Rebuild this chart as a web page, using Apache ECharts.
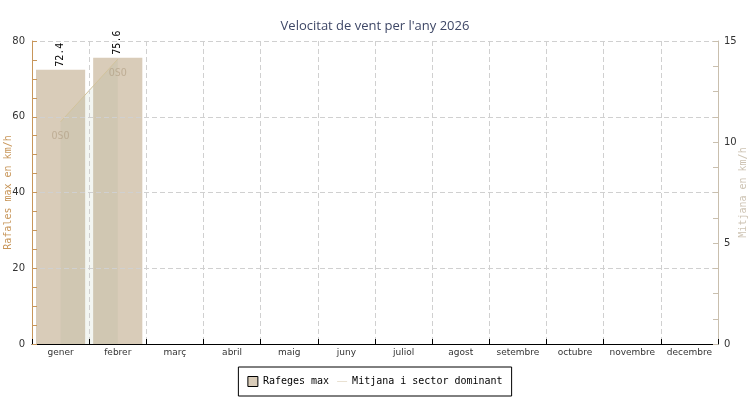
<!DOCTYPE html>
<html>
<head>
<meta charset="utf-8">
<script src="https://cdn.jsdelivr.net/npm/echarts@6/dist/echarts.min.js"></script>
<style>html,body{margin:0;padding:0;background:#fff}#c{width:750px;height:400px}</style>
</head>
<body>
<div id="c"></div>
<script>
const titleText = "Velocitat de vent per l'any 2026";
const categories = ['gener','febrer','març','abril','maig','juny','juliol','agost','setembre','octubre','novembre','decembre'];
const rafeges = [72.4, 75.6, null, null, null, null, null, null, null, null, null, null];
const mitjana = [11.0, 14.1, null, null, null, null, null, null, null, null, null, null];
const sector = ['OSO', 'OSO', '', '', '', '', '', '', '', '', '', ''];
const leftTicks = {min: 0, max: 80, interval: 20};
const rightTicks = {min: 0, max: 15, interval: 5};

const mono = 'DejaVu Sans Mono';
const sans = 'DejaVu Sans';
const chart = echarts.init(document.getElementById('c'), null, {renderer: 'canvas'});
chart.setOption({
  animation: false,
  backgroundColor: '#ffffff',
  title: {
    text: titleText, left: 'center', top: 15,
    textStyle: {fontFamily: 'Open Sans', fontSize: 13, fontWeight: 'normal', color: '#3e4766'}
  },
  grid: {left: 32, right: 32, top: 41, bottom: 56, containLabel: false, outerBoundsMode: 'none'},
  legend: {
    left: 'center', top: 367, padding: [9, 9], itemGap: 8,
    itemWidth: 10, itemHeight: 10,
    borderColor: '#000', borderWidth: 1, backgroundColor: '#fff',
    textStyle: {fontFamily: mono, fontSize: 10, color: '#000'},
    data: [
      {name: 'Rafeges max', icon: 'rect', itemStyle: {color: '#d9ccb9', borderColor: '#000', borderWidth: 1}},
      {name: 'Mitjana i sector dominant', icon: 'path://M0,0L0.001,0L0,0.001Z M0,4.5H10V5.5H0Z M0,10L0.001,10L0,9.999Z', itemStyle: {color: '#e9e1d2', borderWidth: 0}}
    ]
  },
  xAxis: {
    type: 'category', data: categories, boundaryGap: true, z: 10,
    axisLine: {show: true, lineStyle: {color: '#000', width: 1}},
    axisTick: {show: true, inside: true, length: 5, lineStyle: {color: '#000'}},
    axisLabel: {fontFamily: sans, fontSize: 9, color: '#333', margin: 4, interval: 0},
    splitLine: {show: true, lineStyle: {color: '#d0d0d0', type: [5, 3], width: 1}}
  },
  yAxis: [
    {
      type: 'value', min: leftTicks.min, max: leftTicks.max, interval: leftTicks.interval, z: 10,
      position: 'left',
      name: 'Rafales max en km/h', nameLocation: 'middle', nameGap: 19, nameMoveOverlap: false,
      nameTextStyle: {fontFamily: mono, fontSize: 10, color: '#c8965a'},
      axisLine: {show: true, lineStyle: {color: '#c8965a', width: 1}},
      axisTick: {show: true, inside: true, length: 5, lineStyle: {color: '#c8965a'}},
      minorTick: {show: true, splitNumber: 4, length: 5, lineStyle: {color: '#c8965a', width: 1}},
      axisLabel: {fontFamily: sans, fontSize: 10, color: '#333', margin: 7},
      splitLine: {show: true, lineStyle: {color: '#d0d0d0', type: [5, 3], width: 1}}
    },
    {
      type: 'value', min: rightTicks.min, max: rightTicks.max, interval: rightTicks.interval, z: 10,
      position: 'right',
      name: 'Mitjana en km/h', nameLocation: 'middle', nameGap: 20, nameMoveOverlap: false,
      nameTextStyle: {fontFamily: mono, fontSize: 10, color: '#cdc3b3'},
      axisLine: {show: true, lineStyle: {color: '#c9bfae', width: 1}},
      axisTick: {show: true, inside: true, length: 5, lineStyle: {color: '#c9bfae'}},
      minorTick: {show: true, splitNumber: 4, length: 5, lineStyle: {color: '#c9bfae', width: 1}},
      axisLabel: {fontFamily: sans, fontSize: 10, color: '#333', margin: 6},
      splitLine: {show: false}
    }
  ],
  series: [
    {
      name: 'Rafeges max', type: 'bar', yAxisIndex: 0, data: rafeges,
      barCategoryGap: '14%', z: 2,
      itemStyle: {color: '#d9ccb9'},
      label: {
        show: true, position: 'top', rotate: 90, align: 'left', verticalAlign: 'middle', distance: 3,
        fontFamily: mono, fontSize: 10, color: '#000',
        formatter: p => p.value == null ? '' : p.value.toFixed(1)
      }
    },
    {
      name: 'Mitjana i sector dominant', type: 'line', yAxisIndex: 1, data: mitjana, z: 3,
      symbol: 'circle', symbolSize: 1, showSymbol: true, connectNulls: false,
      lineStyle: {color: '#d2c39c', width: 1},
      itemStyle: {color: 'rgba(0,0,0,0)', borderWidth: 0},
      areaStyle: {color: 'rgba(120,160,110,0.13)'},
      label: {
        show: true, position: 'bottom', distance: 9,
        fontFamily: mono, fontSize: 10, color: 'rgba(170,150,120,0.55)',
        formatter: p => sector[p.dataIndex]
      }
    }
  ]
});
</script>
</body>
</html>
